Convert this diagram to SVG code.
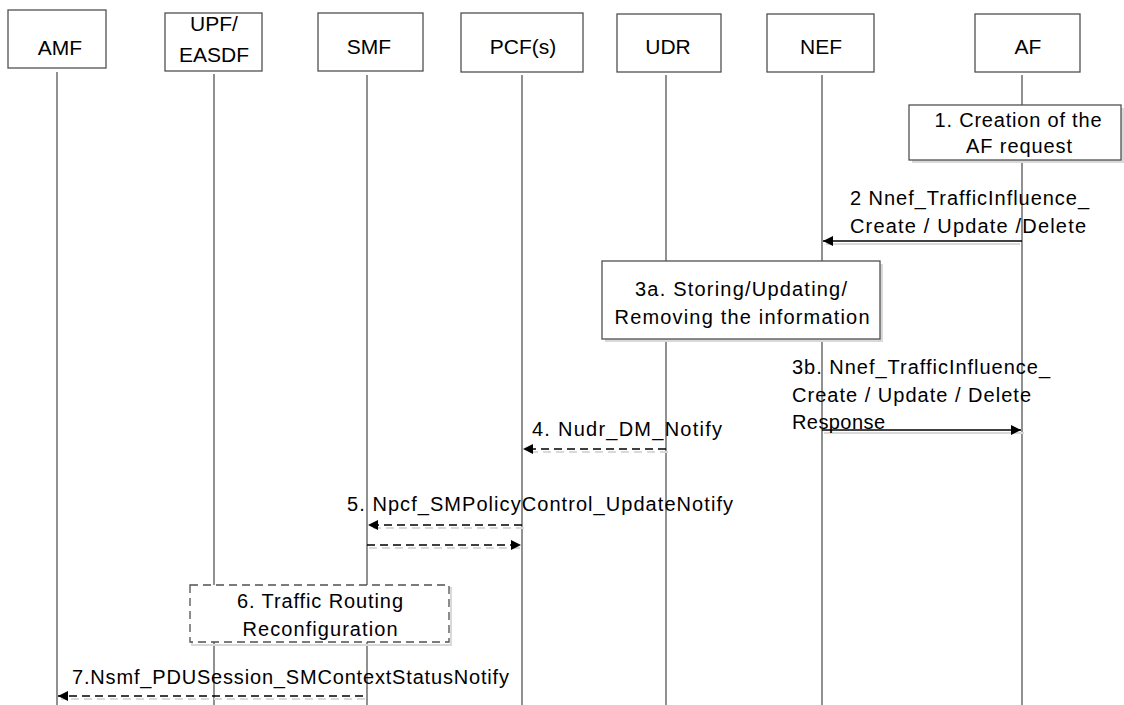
<svg xmlns="http://www.w3.org/2000/svg" width="1124" height="705" viewBox="0 0 1124 705">
<style>
.node{fill:#fff;stroke:#505050;stroke-width:1.3}
.life{stroke:#555;stroke-width:1.3;fill:none}
.lbl{font-family:"Liberation Sans",Arial,sans-serif;font-size:21px;fill:#000}
.msg{font-family:"Liberation Sans",Arial,sans-serif;font-size:20px;fill:#000}
.c{text-anchor:middle}
.arr{stroke:#000;stroke-width:1.3;fill:none}
.dash{stroke-dasharray:8 5}
.sh{stroke:#d9d9d9;stroke-width:2;fill:none}
.shb{fill:#d9d9d9;stroke:none}
</style>
<defs>
<marker id="ah" viewBox="0 0 10 10" refX="10" refY="5" markerWidth="10" markerHeight="10" markerUnits="userSpaceOnUse" orient="auto">
<path d="M0,0 L10,5 L0,10 Z" fill="#000"/>
</marker>
</defs>
<rect width="1124" height="705" fill="#fff"/>
<g id="lifelines">
<line class="life" x1="57" y1="72" x2="57" y2="705"/>
<line class="life" x1="214" y1="74" x2="214" y2="705"/>
<line class="life" x1="367" y1="75" x2="367" y2="705"/>
<line class="life" x1="522" y1="75" x2="522" y2="705"/>
<line class="life" x1="666" y1="75" x2="666" y2="705"/>
<line class="life" x1="822" y1="75" x2="822" y2="705"/>
<line class="life" x1="1022" y1="75" x2="1022" y2="705"/>
</g>
<g id="node-amf"><rect class="node" x="8" y="10" width="98" height="58"/><text class="lbl c" x="60" y="55">AMF</text></g>
<g id="node-upf"><rect class="node" x="165" y="13" width="97" height="58"/><text class="lbl c" x="214" y="31">UPF/</text><text class="lbl c" x="214" y="62">EASDF</text></g>
<g id="node-smf"><rect class="node" x="318" y="13" width="105" height="58"/><text class="lbl c" x="369" y="54">SMF</text></g>
<g id="node-pcf"><rect class="node" x="461" y="13" width="122" height="59"/><text class="lbl c" x="523" y="54">PCF(s)</text></g>
<g id="node-udr"><rect class="node" x="617" y="14" width="104" height="58"/><text class="lbl c" x="668" y="54">UDR</text></g>
<g id="node-nef"><rect class="node" x="767" y="14" width="107" height="58"/><text class="lbl c" x="821" y="54">NEF</text></g>
<g id="node-af"><rect class="node" x="975" y="14" width="105" height="58"/><text class="lbl c" x="1028" y="54">AF</text></g>
<g id="step1">
<rect class="shb" x="912" y="108" width="212" height="55"/>
<rect class="node" x="909" y="105" width="212" height="55"/>
<text class="msg c" x="1018" y="127" textLength="167" lengthAdjust="spacing">1. Creation of the</text>
<text class="msg c" x="1019" y="153" textLength="106" lengthAdjust="spacing">AF request</text>
</g>
<g id="step3a">
<rect class="shb" x="605" y="264" width="278" height="78"/>
<rect class="node" x="602" y="261" width="278" height="78"/>
<text class="msg c" x="741" y="296" textLength="212" lengthAdjust="spacing">3a. Storing/Updating/</text>
<text class="msg c" x="742" y="324" textLength="255" lengthAdjust="spacing">Removing the information</text>
</g>
<g id="step6">
<rect class="sh" x="192" y="588" width="259" height="57"/>
<rect x="190" y="585" width="259" height="57" fill="#fff" stroke="#505050" stroke-width="1.3" stroke-dasharray="8 5"/>
<text class="msg c" x="320" y="608" textLength="166" lengthAdjust="spacing">6. Traffic Routing</text>
<text class="msg c" x="320" y="636" textLength="155" lengthAdjust="spacing">Reconfiguration</text>
</g>
<g id="connectors">
<line class="sh" x1="1020" y1="244" x2="826" y2="244"/>
<line class="arr" x1="1022" y1="241" x2="823" y2="241" marker-end="url(#ah)"/>
<line class="sh" x1="824" y1="433" x2="1024" y2="433"/>
<line class="arr" x1="822" y1="430" x2="1021" y2="430" marker-end="url(#ah)"/>
<line class="sh dash" x1="668" y1="452" x2="526" y2="452"/>
<line class="arr dash" x1="666" y1="449" x2="523" y2="449" marker-end="url(#ah)"/>
<line class="sh dash" x1="524" y1="528" x2="371" y2="528"/>
<line class="arr dash" x1="522" y1="525" x2="368" y2="525" marker-end="url(#ah)"/>
<line class="sh dash" x1="369" y1="548" x2="525" y2="548"/>
<line class="arr dash" x1="367" y1="545" x2="521" y2="545" marker-end="url(#ah)"/>
<line class="sh dash" x1="365" y1="699" x2="61" y2="699"/>
<line class="arr dash" x1="363" y1="696" x2="58" y2="696" marker-end="url(#ah)"/>
</g>
<g id="labels">
<text class="msg" x="850" y="205" textLength="239" lengthAdjust="spacing">2 Nnef_TrafficInfluence_</text>
<text class="msg" x="850" y="233" textLength="236" lengthAdjust="spacing">Create / Update /Delete</text>
<text class="msg" x="792" y="374" textLength="258" lengthAdjust="spacing">3b. Nnef_TrafficInfluence_</text>
<text class="msg" x="792" y="402" textLength="239" lengthAdjust="spacing">Create / Update / Delete</text>
<text class="msg" x="792" y="429" textLength="93" lengthAdjust="spacing">Response</text>
<text class="msg" x="532" y="436" textLength="190" lengthAdjust="spacing">4. Nudr_DM_Notify</text>
<text class="msg" x="347" y="511" textLength="386" lengthAdjust="spacing">5. Npcf_SMPolicyControl_UpdateNotify</text>
<text class="msg" x="72" y="684" textLength="437" lengthAdjust="spacing">7.Nsmf_PDUSession_SMContextStatusNotify</text>
</g>
</svg>
